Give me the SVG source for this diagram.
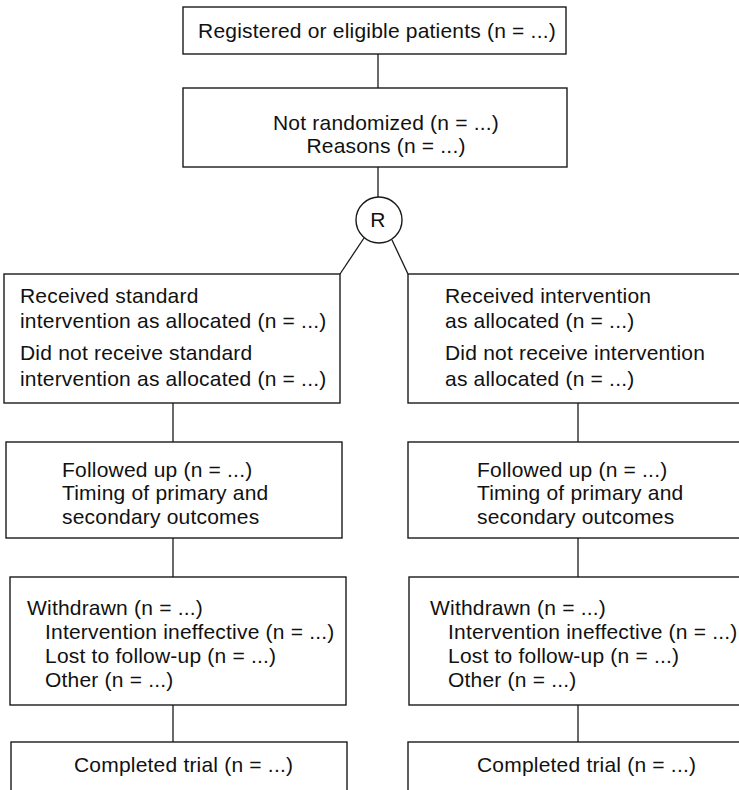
<svg xmlns="http://www.w3.org/2000/svg" width="739" height="790" viewBox="0 0 739 790">
<style>
.box{fill:#fff;stroke:#1a1a1a;stroke-width:1.4}
.ln{fill:none;stroke:#1a1a1a;stroke-width:1.3}
text{font-family:"Liberation Sans",Arial,sans-serif;font-size:21px;letter-spacing:0.2px;fill:#111}
.c{text-anchor:middle}
</style>
<rect width="739" height="790" fill="#fff"/>
<g id="connectors">
<line class="ln" x1="378" y1="54" x2="378" y2="88"/>
<line class="ln" x1="378" y1="167" x2="378" y2="197"/>
<line class="ln" x1="364" y1="238" x2="340" y2="274"/>
<line class="ln" x1="392" y1="240" x2="408" y2="274"/>
<line class="ln" x1="173" y1="403" x2="173" y2="442"/>
<line class="ln" x1="173" y1="538" x2="173" y2="577"/>
<line class="ln" x1="173" y1="705" x2="173" y2="742"/>
<line class="ln" x1="578" y1="403" x2="578" y2="442"/>
<line class="ln" x1="578" y1="538" x2="578" y2="577"/>
<line class="ln" x1="578" y1="705" x2="578" y2="742"/>
</g>
<g id="registered">
<rect class="box" x="183" y="7" width="383" height="47"/>
<text class="c" x="377" y="38">Registered or eligible patients (n = ...)</text>
</g>
<g id="not-randomized">
<rect class="box" x="183" y="88" width="384" height="79"/>
<text class="c" x="386" y="130">Not randomized (n = ...)</text>
<text class="c" x="386" y="153">Reasons (n = ...)</text>
</g>
<g id="randomize">
<circle class="box" cx="379" cy="220" r="23"/>
<text class="c" x="378" y="227">R</text>
</g>
<g id="standard-allocation">
<rect class="box" x="4" y="274" width="336" height="129"/>
<text x="20" y="303">Received standard</text>
<text x="20" y="328">intervention as allocated (n = ...)</text>
<text x="20" y="360">Did not receive standard</text>
<text x="20" y="386">intervention as allocated (n = ...)</text>
</g>
<g id="intervention-allocation">
<rect class="box" x="408" y="274" width="340" height="129"/>
<text x="445" y="303">Received intervention</text>
<text x="445" y="328">as allocated (n = ...)</text>
<text x="445" y="360">Did not receive intervention</text>
<text x="445" y="386">as allocated (n = ...)</text>
</g>
<g id="followup-left">
<rect class="box" x="6" y="442" width="336" height="96"/>
<text x="62" y="477">Followed up (n = ...)</text>
<text x="62" y="500">Timing of primary and</text>
<text x="62" y="524">secondary outcomes</text>
</g>
<g id="followup-right">
<rect class="box" x="408" y="442" width="340" height="96"/>
<text x="477" y="477">Followed up (n = ...)</text>
<text x="477" y="500">Timing of primary and</text>
<text x="477" y="524">secondary outcomes</text>
</g>
<g id="withdrawn-left">
<rect class="box" x="10" y="577" width="336" height="128"/>
<text x="27" y="615">Withdrawn (n = ...)</text>
<text x="45" y="639">Intervention ineffective (n = ...)</text>
<text x="45" y="663">Lost to follow-up (n = ...)</text>
<text x="45" y="687">Other (n = ...)</text>
</g>
<g id="withdrawn-right">
<rect class="box" x="409" y="577" width="340" height="128"/>
<text x="430" y="615">Withdrawn (n = ...)</text>
<text x="448" y="639">Intervention ineffective (n = ...)</text>
<text x="448" y="663">Lost to follow-up (n = ...)</text>
<text x="448" y="687">Other (n = ...)</text>
</g>
<g id="completed-left">
<rect class="box" x="11" y="742" width="336" height="60"/>
<text x="74" y="772">Completed trial (n = ...)</text>
</g>
<g id="completed-right">
<rect class="box" x="408" y="742" width="340" height="60"/>
<text x="477" y="772">Completed trial (n = ...)</text>
</g>
</svg>
